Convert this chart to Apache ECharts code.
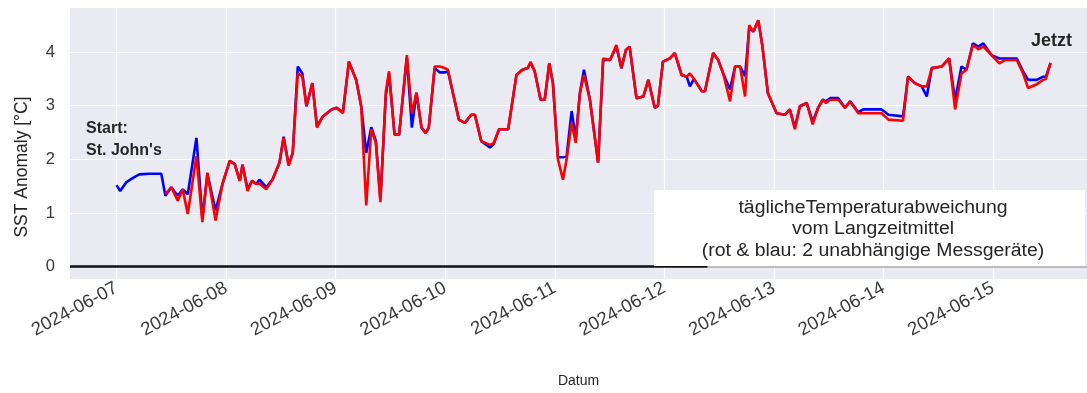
<!DOCTYPE html>
<html>
<head>
<meta charset="utf-8">
<script src="https://cdn.jsdelivr.net/npm/echarts@6/dist/echarts.min.js"></script>
<style>
  html, body { margin: 0; padding: 0; background: #fff; }
  #chart { width: 1087px; height: 393px; }
</style>
</head>
<body>
<div id="chart"></div>
<script>
// Hours since 2024-06-07 00:00
const hours = [
  0.0, 0.8, 2.1, 3.5, 5.0, 7.2, 9.8, 10.7, 12.0, 13.4,
  14.5, 15.6, 17.5, 18.8, 19.9, 21.7, 23.2, 24.8, 25.9, 27.0,
  27.6, 28.7, 29.7, 30.6, 31.3, 32.8, 34.2, 35.7, 36.6, 37.7,
  38.6, 39.7, 40.7, 41.6, 42.9, 43.9, 45.2, 47.1, 48.2, 49.6,
  50.9, 52.5, 53.6, 54.7, 55.8, 56.8, 57.8, 59.0, 59.7, 60.9,
  61.9, 63.6, 64.7, 65.7, 66.8, 67.7, 68.4, 69.7, 70.8, 71.9,
  72.6, 73.7, 75.0, 76.3, 77.7, 78.5, 79.9, 81.8, 82.6, 83.8,
  85.8, 87.6, 88.9, 90.1, 90.7, 91.6, 92.9, 93.8, 94.8, 95.6,
  96.7, 97.8, 98.6, 99.7, 100.6, 101.5, 102.4, 103.7, 105.5, 106.6,
  108.1, 109.5, 110.6, 111.6, 112.4, 113.9, 115.4, 116.5, 117.9, 118.6,
  119.7, 121.2, 122.3, 123.8, 124.9, 125.6, 126.5, 128.2, 128.9, 130.7,
  131.8, 132.9, 134.4, 135.5, 136.6, 137.7, 138.6, 139.5, 140.6, 141.5,
  142.7, 144.6, 146.4, 147.5, 148.6, 149.7, 151.2, 152.5, 153.7, 154.7,
  155.4, 156.3, 158.1, 159.6, 160.7, 162.5, 163.6, 167.6, 169.1, 172.3,
  173.4, 174.9, 176.4, 177.5, 178.6, 180.8, 182.4, 183.7, 185.1, 186.2,
  187.6, 188.8, 189.9, 191.7, 193.4, 194.6, 197.2, 198.6, 199.7, 201.6,
  203.0, 203.6, 204.6
];

// Instrument 1 (red), anomaly in °C
const redValues = [
  null, null, null, null, null, null, null, 1.35, 1.48, 1.23,
  1.44, 0.98, 2.06, 0.83, 1.75, 0.86, 1.54, 1.97, 1.91, 1.60,
  1.90, 1.41, 1.60, 1.54, 1.55, 1.44, 1.63, 1.94, 2.40, 1.88,
  2.12, 3.60, 3.55, 2.99, 3.42, 2.59, 2.80, 2.93, 2.96, 2.86,
  3.82, 3.48, 2.99, 1.14, 2.56, 2.31, 1.20, 3.27, 3.64, 2.46,
  2.46, 3.94, 2.85, 3.24, 2.60, 2.49, 2.59, 3.73, 3.73, 3.70,
  3.67, 3.23, 2.74, 2.68, 2.83, 2.83, 2.34, 2.27, 2.30, 2.56,
  2.56, 3.57, 3.67, 3.70, 3.82, 3.64, 3.11, 3.11, 3.79, 3.42,
  2.00, 1.62, 2.00, 2.68, 2.31, 3.23, 3.57, 3.11, 1.94, 3.88,
  3.85, 4.13, 3.70, 4.04, 4.10, 3.14, 3.17, 3.48, 2.96, 3.00,
  3.82, 3.88, 3.98, 3.57, 3.54, 3.60, 3.50, 3.27, 3.27, 3.98,
  3.85, 3.60, 3.08, 3.73, 3.73, 3.17, 4.50, 4.38, 4.59, 4.10,
  3.23, 2.86, 2.83, 2.93, 2.56, 2.99, 3.05, 2.65, 2.96, 3.11,
  3.05, 3.11, 3.11, 2.96, 3.08, 2.86, 2.86, 2.86, 2.74, 2.72,
  3.54, 3.42, 3.36, 3.36, 3.70, 3.73, 3.88, 2.93, 3.60, 3.67,
  4.13, 4.05, 4.10, 3.94, 3.79, 3.85, 3.85, 3.60, 3.33, 3.40,
  3.48, 3.50, 3.80
];

// Instrument 2 (blue), anomaly in °C
const blueValues = [
  1.52, 1.41, 1.57, 1.65, 1.72, 1.73, 1.73, 1.32, 1.48, 1.32,
  1.44, 1.35, 2.40, 0.90, 1.72, 1.05, 1.54, 1.97, 1.91, 1.60,
  1.90, 1.45, 1.60, 1.54, 1.62, 1.48, 1.63, 1.94, 2.42, 1.90,
  2.12, 3.73, 3.60, 2.99, 3.42, 2.62, 2.80, 2.93, 2.96, 2.88,
  3.82, 3.48, 2.99, 2.12, 2.60, 2.35, 1.25, 3.20, 3.60, 2.46,
  2.46, 3.90, 2.59, 3.24, 2.59, 2.49, 2.59, 3.70, 3.62, 3.62,
  3.64, 3.23, 2.74, 2.68, 2.83, 2.83, 2.34, 2.22, 2.28, 2.56,
  2.56, 3.57, 3.67, 3.70, 3.80, 3.64, 3.11, 3.11, 3.79, 3.42,
  2.04, 2.04, 2.06, 2.90, 2.40, 3.23, 3.67, 3.11, 1.94, 3.85,
  3.85, 4.10, 3.70, 4.04, 4.10, 3.14, 3.17, 3.48, 2.96, 3.00,
  3.82, 3.88, 3.98, 3.57, 3.54, 3.36, 3.50, 3.27, 3.27, 3.98,
  3.85, 3.60, 3.30, 3.73, 3.73, 3.55, 4.45, 4.38, 4.59, 4.10,
  3.23, 2.86, 2.83, 2.93, 2.59, 2.99, 3.05, 2.70, 2.96, 3.11,
  3.08, 3.14, 3.14, 2.96, 3.08, 2.88, 2.93, 2.93, 2.83, 2.80,
  3.54, 3.42, 3.36, 3.17, 3.70, 3.73, 3.88, 3.10, 3.73, 3.67,
  4.16, 4.10, 4.16, 3.94, 3.88, 3.88, 3.88, 3.64, 3.48, 3.48,
  3.54, 3.54, 3.79
];

// Date tick labels, one per day starting at hour 0
const xTickLabels = [
  '2024-06-07', '2024-06-08', '2024-06-09', '2024-06-10', '2024-06-11',
  '2024-06-12', '2024-06-13', '2024-06-14', '2024-06-15'
];
const yTicks = [0, 1, 2, 3, 4];

// Axis extents (hours / °C)
const xMin = -10.2, xMax = 212.6;
const yMin = -0.23, yMax = 4.82;
// Zero reference line: solid black part ends here (hours)
const zeroLineEnd = 129.5;

const xTickValues = xTickLabels.map((_, i) => i * 24);
const pairs = vals => hours.map((h, i) => [h, vals[i]]);

const font = 'Liberation Sans, Arial, sans-serif';
const textColor = '#262626';

const chart = echarts.init(document.getElementById('chart'), null, { renderer: 'canvas' });

chart.setOption({
  backgroundColor: '#ffffff',
  animation: false,
  grid: {
    left: 70, right: 0, top: 8, bottom: 112.6,
    show: true, backgroundColor: '#eaeaf2', borderWidth: 0
  },
  xAxis: {
    type: 'value',
    min: xMin, max: xMax,
    name: 'Datum',
    nameLocation: 'middle',
    nameGap: 95,
    nameTextStyle: { fontFamily: font, fontSize: 14, color: textColor },
    axisLine: { show: false },
    axisTick: { show: false, customValues: xTickValues },
    axisLabel: {
      customValues: xTickValues,
      rotate: 28,
      margin: 8,
      fontFamily: font, fontSize: 18.5, color: '#3a3a3a',
      formatter: v => xTickLabels[Math.round(v / 24)] || ''
    },
    splitLine: { show: true, lineStyle: { color: '#ffffff', width: 1.2 } }
  },
  yAxis: {
    type: 'value',
    min: yMin, max: yMax,
    axisLine: { show: false },
    axisTick: { show: false, customValues: yTicks },
    axisLabel: {
      customValues: yTicks,
      margin: 15,
      fontFamily: font, fontSize: 16.5, color: '#3a3a3a'
    },
    splitLine: { show: true, lineStyle: { color: '#ffffff', width: 1.2 } }
  },
  series: [
    {
      name: 'blau',
      type: 'line',
      data: pairs(blueValues),
      showSymbol: false,
      connectNulls: false,
      lineStyle: { color: '#0000ff', width: 2.6 },
      itemStyle: { color: '#0000ff' },
      z: 3,
      markLine: {
        silent: true,
        symbol: 'none',
        label: { show: false },
        data: [
          [
            { coord: [xMin, 0], lineStyle: { color: '#111111', width: 2.5, type: 'solid' } },
            { coord: [zeroLineEnd, 0] }
          ],
          [
            { coord: [zeroLineEnd, 0], lineStyle: { color: '#a8a8ae', width: 1.5, type: 'solid' } },
            { coord: [xMax, 0] }
          ]
        ]
      }
    },
    {
      name: 'rot',
      type: 'line',
      data: pairs(redValues),
      showSymbol: false,
      connectNulls: false,
      lineStyle: { color: '#ff0000', width: 2.6 },
      itemStyle: { color: '#ff0000' },
      z: 4
    }
  ],
  graphic: [
    {
      // y-axis title
      type: 'text', x: 22, y: 167, rotation: Math.PI / 2, z: 10,
      style: {
        text: 'SST Anomaly [°C]',
        font: '17.5px ' + font, fill: textColor,
        align: 'center', verticalAlign: 'middle'
      }
    },
    {
      type: 'text', left: 86, top: 118, z: 10,
      style: {
        text: 'Start:\nSt. John\'s',
        font: 'bold 16px ' + font, fill: textColor, lineHeight: 22
      }
    },
    {
      type: 'text', left: 1031, top: 32, z: 10,
      style: { text: 'Jetzt', font: 'bold 18px ' + font, fill: textColor }
    },
    {
      type: 'rect', z: 10,
      shape: { x: 654, y: 190, width: 431, height: 76 },
      style: { fill: '#ffffff' }
    },
    {
      type: 'text', x: 873, y: 197, z: 11, scaleX: 1.08,
      style: {
        text: 'täglicheTemperaturabweichung\nvom Langzeitmittel\n(rot & blau: 2 unabhängige Messgeräte)',
        font: '18px ' + font, fill: textColor,
        align: 'center', verticalAlign: 'top', lineHeight: 21.5
      }
    }
  ]
});
</script>
</body>
</html>
